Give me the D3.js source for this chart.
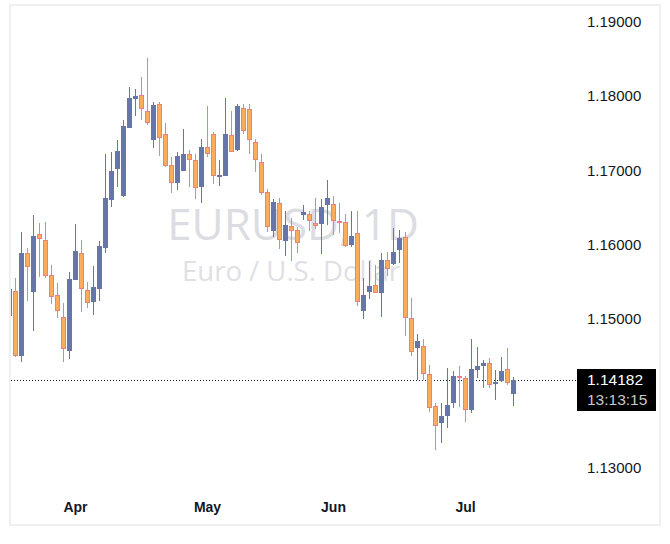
<!DOCTYPE html>
<html>
<head>
<meta charset="utf-8">
<script src="https://cdn.jsdelivr.net/npm/d3@7"></script>
<style>
  body { margin: 0; background: #ffffff; }
</style>
</head>
<body>
<div id="chart"></div>
<script>
// Daily candles, EURUSD
const firstDay = "2026-03-17";
const lastDay = "2026-07-13";

const opens = [
  1.15042, 1.15377, 1.14504, 1.15888, 1.15364, 1.16143, 1.16062, 1.15592, 1.15324, 1.15028,
  1.14571, 1.15525, 1.15888, 1.15391, 1.15230, 1.15404, 1.15955, 1.16600, 1.17016, 1.16653,
  1.17567, 1.17956, 1.18010, 1.17795, 1.17406, 1.17889, 1.17486, 1.17070, 1.16828, 1.16989,
  1.17218, 1.17137, 1.16774, 1.17312, 1.17486, 1.16922, 1.16922, 1.17473, 1.17271, 1.17835,
  1.17822, 1.17379, 1.17110, 1.16707, 1.16183, 1.16559, 1.16049, 1.16250, 1.16197, 1.16398,
  1.16412, 1.16291, 1.16277, 1.16532, 1.16546, 1.16318, 1.16304, 1.15995, 1.16156, 1.15109,
  1.15364, 1.15458, 1.15350, 1.15794, 1.15740, 1.15928, 1.16103, 1.15015, 1.14612, 1.14639,
  1.14262, 1.13833, 1.13604, 1.13698, 1.13873, 1.14236, 1.14209, 1.13779, 1.14316, 1.14370,
  1.14410, 1.14128, 1.14168, 1.14330, 1.13994
];

const highs = [
  1.15458, 1.15552, 1.16170, 1.15955, 1.16398, 1.16291, 1.16304, 1.15727, 1.15485, 1.15216,
  1.15633, 1.16277, 1.16062, 1.15498, 1.15713, 1.16049, 1.17218, 1.17244, 1.17406, 1.17674,
  1.18117, 1.18091, 1.18252, 1.18507, 1.17916, 1.17916, 1.17634, 1.17177, 1.17244, 1.17553,
  1.17271, 1.17218, 1.17419, 1.17862, 1.17513, 1.17137, 1.17970, 1.17795, 1.17889, 1.17889,
  1.17889, 1.17419, 1.17218, 1.16747, 1.16613, 1.16627, 1.16452, 1.16358, 1.16237, 1.16532,
  1.16452, 1.16627, 1.16613, 1.16868, 1.16653, 1.16559, 1.16412, 1.16452, 1.16452, 1.15552,
  1.15780, 1.15727, 1.15888, 1.15901, 1.16224, 1.16197, 1.16170, 1.15283, 1.14800, 1.14733,
  1.14383, 1.13873, 1.13873, 1.14343, 1.14303, 1.14370, 1.14236, 1.14733, 1.14625, 1.14451,
  1.14477, 1.14316, 1.14491, 1.14612, 1.14222
];

const lows = [
  1.14988, 1.14491, 1.14424, 1.15243, 1.14840, 1.15565, 1.15552, 1.15203, 1.15015, 1.14424,
  1.14464, 1.15525, 1.15095, 1.15149, 1.15055, 1.15243, 1.15888, 1.16506, 1.16774, 1.16640,
  1.17567, 1.17728, 1.17674, 1.17607, 1.17298, 1.17191, 1.17043, 1.16694, 1.16734, 1.16989,
  1.16774, 1.16613, 1.16559, 1.17177, 1.16815, 1.16788, 1.16922, 1.17244, 1.17258, 1.17486,
  1.17218, 1.16976, 1.16667, 1.16170, 1.16103, 1.15941, 1.15847, 1.15780, 1.15888, 1.16331,
  1.16183, 1.16210, 1.15874, 1.16264, 1.16130, 1.16156, 1.15968, 1.15968, 1.15176, 1.15001,
  1.15270, 1.15350, 1.15028, 1.15579, 1.15727, 1.15753, 1.14773, 1.14504, 1.14182, 1.14182,
  1.13752, 1.13242, 1.13336, 1.13537, 1.13806, 1.13819, 1.13618, 1.13739, 1.14209, 1.14074,
  1.14074, 1.13913, 1.14155, 1.14115, 1.13833
];

const closes = [
  1.15404, 1.14504, 1.15888, 1.15700, 1.16116, 1.16076, 1.15579, 1.15297, 1.15109, 1.14598,
  1.15539, 1.15915, 1.15404, 1.15216, 1.15431, 1.15982, 1.16627, 1.16989, 1.17258, 1.17594,
  1.17970, 1.17997, 1.17822, 1.17634, 1.17876, 1.17432, 1.17056, 1.16828, 1.17191, 1.17218,
  1.17137, 1.16761, 1.17312, 1.17218, 1.16922, 1.16935, 1.17486, 1.17244, 1.17862, 1.17526,
  1.17406, 1.17137, 1.16694, 1.16237, 1.16573, 1.16062, 1.16264, 1.16183, 1.16022, 1.16438,
  1.16318, 1.16250, 1.16506, 1.16627, 1.16318, 1.16304, 1.15982, 1.16116, 1.15230, 1.15324,
  1.15444, 1.15350, 1.15794, 1.15673, 1.15901, 1.16089, 1.15015, 1.14558, 1.14706, 1.14262,
  1.13806, 1.13564, 1.13698, 1.13846, 1.14236, 1.14209, 1.13779, 1.14330, 1.14370, 1.14410,
  1.14115, 1.14155, 1.14303, 1.14142, 1.14182
];

const priceTicks = [1.13, 1.14, 1.15, 1.16, 1.17, 1.18, 1.19];
const monthLabels = ["Apr", "May", "Jun", "Jul"];

const symbolText = "EURUSD, 1D";
const descriptionText = "Euro / U.S. Dollar";
const countdownText = "13:13:15";

const upColor = "#6675aa";
const downFill = "#fcac5d";
const downStroke = "#f27c82";

const width = 670;
const height = 544;

// Trading days (weekdays only)
const parseDay = d3.timeParse("%Y-%m-%d");
const dates = d3
  .timeDays(parseDay(firstDay), d3.timeDay.offset(parseDay(lastDay), 1))
  .filter((d) => d.getDay() !== 0 && d.getDay() !== 6);

const candles = dates.map((date, i) => ({
  date,
  open: opens[i],
  high: highs[i],
  low: lows[i],
  close: closes[i],
}));

const svg = d3
  .select("#chart")
  .append("svg")
  .attr("width", width)
  .attr("height", height)
  .style("display", "block");

// Scales
const x = d3
  .scaleBand()
  .domain(dates)
  .range([6.5, 516.5])
  .padding(0);

const y = d3.scaleLinear().domain([1.13, 1.19]).range([468, 21.3]);

const cx = (d) => x(d.date) + x.bandwidth() / 2;

// Outer frame
svg
  .append("rect")
  .attr("x", 10)
  .attr("y", 5)
  .attr("width", 650)
  .attr("height", 520)
  .attr("fill", "none")
  .attr("stroke", "#f0f0f0")
  .attr("stroke-width", 2);

svg
  .append("defs")
  .append("clipPath")
  .attr("id", "plot-clip")
  .append("rect")
  .attr("x", 11)
  .attr("y", 6)
  .attr("width", 566)
  .attr("height", 490);

// Watermark
const watermark = svg
  .append("g")
  .attr("font-family", "'Open Sans', sans-serif")
  .attr("text-anchor", "middle");

watermark
  .append("text")
  .attr("x", 293)
  .attr("y", 240)
  .attr("font-size", 44)
  .attr("fill", "#dcdde2")
  .text(symbolText);

watermark
  .append("text")
  .attr("x", 291)
  .attr("y", 281)
  .attr("font-size", 27.5)
  .attr("fill", "#dfe0e4")
  .text(descriptionText);

const plot = svg.append("g").attr("clip-path", "url(#plot-clip)");

// Last price dotted line
const lastClose = closes[closes.length - 1];
const lastY = Math.round(y(lastClose)) + 0.5;

plot
  .append("line")
  .attr("x1", 11)
  .attr("x2", 577)
  .attr("y1", lastY)
  .attr("y2", lastY)
  .attr("stroke", "#131722")
  .attr("stroke-width", 1)
  .attr("stroke-dasharray", "1,2");

// Candles
const candle = plot
  .selectAll(".candle")
  .data(candles)
  .enter()
  .append("g")
  .attr("class", "candle");

candle
  .append("line")
  .attr("x1", cx)
  .attr("x2", cx)
  .attr("y1", (d) => Math.round(y(d.high)))
  .attr("y2", (d) => Math.round(y(d.low)))
  .attr("stroke", (d) => (d.close >= d.open ? upColor : downStroke))
  .attr("stroke-width", 1);

candle
  .append("rect")
  .attr("x", (d) => cx(d) - 2)
  .attr("width", 4)
  .attr("y", (d) => Math.round(y(Math.max(d.open, d.close))) + 0.5)
  .attr("height", (d) => {
    const top = Math.round(y(Math.max(d.open, d.close)));
    const bottom = Math.round(y(Math.min(d.open, d.close)));
    return Math.max(bottom - top - 1, 1);
  })
  .attr("fill", (d) => (d.close >= d.open ? upColor : downFill))
  .attr("stroke", (d) => (d.close >= d.open ? upColor : downStroke))
  .attr("stroke-width", 1);

// Price axis - ticks hidden under the last price label are dropped
const visibleTicks = priceTicks.filter(
  (t) => Math.abs(y(t) - y(lastClose)) > 24
);

const priceAxis = d3
  .axisRight(y)
  .tickValues(visibleTicks)
  .tickSize(0)
  .tickPadding(0)
  .tickFormat(d3.format(".5f"));

svg
  .append("g")
  .attr("transform", "translate(587, 0)")
  .call(priceAxis)
  .call((g) => g.select(".domain").remove())
  .selectAll("text")
  .attr("font-family", "'Liberation Sans', Arial, sans-serif")
  .attr("font-size", 15)
  .attr("fill", "#131722");

// Month axis
const monthStarts = dates.filter(
  (d, i) => i > 0 && d.getMonth() !== dates[i - 1].getMonth()
);

const timeAxis = d3
  .axisBottom(x)
  .tickValues(monthStarts)
  .tickSize(0)
  .tickPadding(0)
  .tickFormat((d, i) => monthLabels[i]);

svg
  .append("g")
  .attr("transform", "translate(0, 502)")
  .call(timeAxis)
  .call((g) => g.select(".domain").remove())
  .selectAll("text")
  .attr("font-family", "'Liberation Sans', Arial, sans-serif")
  .attr("font-size", 14)
  .attr("font-weight", "bold")
  .attr("fill", "#131722");

// Last price label
const label = svg.append("g").attr("transform", "translate(577, 369)");

label
  .append("rect")
  .attr("width", 79)
  .attr("height", 42)
  .attr("fill", "#000000");

label
  .append("text")
  .attr("x", 10)
  .attr("y", 16)
  .attr("font-family", "'Liberation Sans', Arial, sans-serif")
  .attr("font-size", 15.5)
  .attr("fill", "#ffffff")
  .text(d3.format(".5f")(lastClose));

label
  .append("text")
  .attr("x", 10)
  .attr("y", 36)
  .attr("font-family", "'Liberation Sans', Arial, sans-serif")
  .attr("font-size", 15.5)
  .attr("fill", "#c9c9c9")
  .text(countdownText);
</script>
</body>
</html>
